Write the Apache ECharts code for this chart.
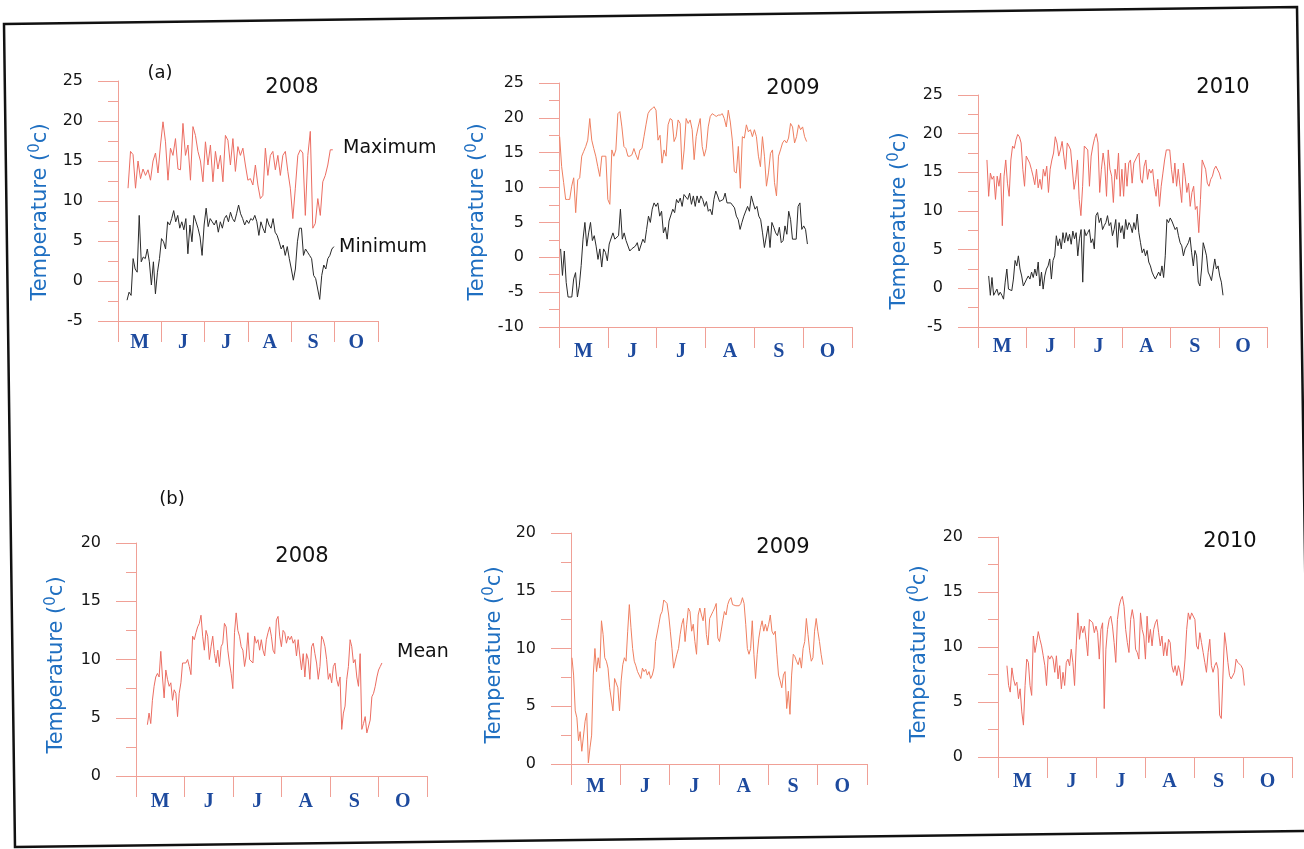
<!DOCTYPE html>
<html>
<head>
<meta charset="utf-8">
<script src="https://cdn.jsdelivr.net/npm/echarts@6/dist/echarts.min.js"></script>
<style>
  html, body { margin: 0; padding: 0; background: #fff; }
  #chart { width: 1304px; height: 849px; }
</style>
</head>
<body>
<div id="chart"></div>
<script>
// Growing season, 1 May – 31 Oct (184 days), shown as six month bands.
const monthNames = ['May', 'Jun', 'Jul', 'Aug', 'Sep', 'Oct'];
const monthLabels = ['M', 'J', 'J', 'A', 'S', 'O'];
const seasonDays = 184;

// Daily air temperature (°C). Each series runs evenly between its first and last day.
const max2008 = [11.6, 16.2, 15.8, 11.6, 15, 12.8, 14, 13.2, 13.9, 12.6, 15, 16, 13.5, 17, 19.9, 17.4, 12.6, 16.6, 15.7, 17.8, 14, 13.9, 19.7, 15.7, 17, 12.6, 19.3, 18.2, 16.2, 15, 12.4, 17.4, 14.5, 17, 12.4, 16.2, 14, 15.7, 12.4, 18.2, 17.6, 14.5, 17.8, 13.7, 16.8, 15.7, 16.6, 14.5, 12.6, 12.8, 12, 14.5, 12, 10.3, 10.7, 16.6, 13.2, 15.7, 16.2, 13.9, 15.7, 13.2, 15.7, 16.2, 13.7, 11.6, 7.8, 11.6, 15.7, 16.4, 16, 8.2, 15.7, 18.7, 6.6, 7.2, 10.3, 8.2, 12.4, 13.2, 14.5, 16.4, 16.4];
const max2008Days = [7.1, 152];
const min2008 = [-2.4, -1.4, -1.8, 2.8, 1.5, 1.1, 8.2, 2.4, 3, 2.8, 4, 2.4, -0.5, 2.4, -1.6, 1.1, 2.8, 5.3, 4.9, 4, 7.4, 7, 7.8, 8.8, 7.4, 8.2, 6.6, 7.4, 6.4, 7.8, 3.4, 7, 4.9, 8.2, 7.4, 6.6, 5.5, 3.2, 7, 9.1, 6.8, 7.8, 7.4, 7, 7.6, 6.1, 7.4, 6.6, 7.8, 8.2, 7.4, 8.6, 7.8, 7.4, 8.4, 9.5, 8.4, 7.8, 7, 7.6, 7.2, 7.8, 7.6, 8.2, 7.4, 5.7, 7.4, 6.6, 6, 7.8, 7, 6.6, 7.8, 6.1, 5.7, 4.9, 4, 4.5, 3.2, 4.3, 2.8, 1.5, 0.1, 1.5, 4.9, 6.6, 6.6, 3.2, 4, 3.6, 3.2, 2.8, 0.7, 0.3, -1, -2.3, 0.7, 2, 1.5, 2.8, 3.2, 4, 4.3];
const min2008Days = [6.4, 152.8];

const max2009 = [17.3, 13, 10.7, 8.3, 8.3, 8.3, 10.2, 11.4, 6.4, 11.1, 11.4, 14.5, 15.2, 15.9, 16.8, 19.9, 16.8, 15.6, 14.5, 13, 11.6, 14.5, 14.5, 14.5, 8.3, 7.6, 15.4, 14.5, 15.4, 20.6, 20.9, 18.7, 15.9, 15.6, 14.5, 14.5, 14.7, 15.6, 14.7, 14, 15.4, 15.6, 17.3, 19, 20.6, 21.1, 21.3, 21.6, 21.1, 16.8, 17.5, 13.5, 15.4, 14.5, 19, 19.9, 19.7, 16.6, 17.3, 19.7, 19.2, 12.6, 15.4, 19.9, 19.2, 19.7, 18.3, 14, 17.3, 18.7, 19.9, 15.9, 14.5, 15.6, 18.7, 20.2, 20.6, 20.4, 20.2, 20.4, 20.4, 20.6, 19.9, 18.7, 21.1, 19.4, 16.8, 12.3, 12.1, 15.9, 9.9, 17.3, 17.1, 19, 18, 18.3, 17.3, 18.3, 17.3, 14.5, 13, 17.3, 14.5, 10.2, 12.1, 14.9, 15.4, 10.7, 8.8, 14.5, 15.4, 16.4, 16.8, 16.4, 17.1, 19.2, 18.7, 16.4, 17.3, 19, 18.3, 18.7, 17.3, 16.6];
const max2009Days = [0.4, 155.5];
const min2009 = [1.2, -2.6, 0.9, -3.6, -5.7, -5.7, -5.7, -3.1, -2.2, -5.7, -4.1, -1.2, 2.6, 5, 1.6, 3.5, 5, 2.4, 3.1, 1.6, -0.3, 1.2, -1.4, 1.2, 0.7, -0.5, 1.9, 1.9, 3.5, 2.6, 2.4, 3.1, 6.9, 2.6, 3.5, 2.4, 2.6, 0.9, 1.2, 1.4, 1.6, 2.1, 0.9, 0.7, 2.6, 2.1, 4, 5.9, 5, 6.9, 7.8, 7.3, 7.8, 5.9, 6.6, 3.5, 4.3, 2.6, 5.2, 5.4, 6.9, 6.4, 8.3, 7.8, 8.5, 7.3, 9, 8.8, 8.3, 9.2, 7.6, 8.8, 7.3, 8.8, 7.8, 8.8, 8.3, 7.3, 8, 6.6, 6.9, 6.1, 8.3, 9.5, 8.8, 8, 7.8, 8.3, 9.2, 7.8, 8, 7.8, 8, 7.1, 5.9, 5.4, 4, 5, 5.9, 6.1, 7.3, 6.6, 8.8, 7.8, 6.9, 7.3, 5.9, 5.4, 3.5, 1.4, 1.6, 4.5, 1.4, 5, 4.3, 3.5, 3.1, 4.3, 2.1, 2.4, 4.5, 3.3, 6.6, 5.4, 2.6, 2.4, 2.6, 7.3, 7.8, 4, 4.5, 4, 1.9];
const min2009Days = [1, 156];

const max2010 = [16.6, 11.9, 14.9, 14.1, 14.5, 11.5, 14.5, 13.2, 14.9, 8.1, 14.5, 16.6, 13.6, 11.9, 16.6, 18.4, 18.1, 19.2, 19.9, 19.6, 18.8, 15.4, 13.2, 17.1, 17.3, 16.2, 15.4, 14.5, 13.4, 15.4, 13, 14.1, 12.8, 15.4, 14.5, 15.8, 12.4, 15.4, 16.6, 17.5, 19.6, 18.8, 17.1, 17.9, 19, 17.1, 15.4, 18.8, 18.4, 17.9, 18.1, 12.8, 14.1, 16.6, 11.5, 9.4, 13.2, 18.4, 18.6, 17.9, 13.2, 17.1, 18.4, 19.4, 20, 18.8, 12.4, 15.4, 17.5, 15.8, 11.9, 17.9, 15.4, 14.5, 11.1, 15.4, 14.1, 17.5, 11.9, 15.4, 11.9, 16.2, 13.2, 16.2, 16.6, 13.6, 16.2, 16.2, 17.1, 17.5, 14.1, 13.6, 15.8, 16.6, 14.1, 15.4, 14.9, 15.4, 13.2, 11.9, 14.1, 10.6, 13.2, 14.9, 16.6, 17.9, 18.1, 17.9, 15.4, 13.6, 16.2, 13.2, 15.4, 13.2, 11.1, 16.2, 14.5, 12.4, 13.6, 10.6, 12.4, 13.2, 10.2, 10.6, 7.2, 11.5, 16.6, 16.6, 15.4, 13.6, 13.2, 14.1, 14.5, 15.4, 15.8, 15.6, 14.9, 14.1];
const max2010Days = [5.7, 154.7];
const min2010 = [1.6, -0.9, 1.4, -0.9, -0.5, -0.1, -0.9, -0.5, -0.9, -1.4, 0.8, 2.5, -0.1, -0.3, -0.3, 1.2, 3.6, 2.9, 4.2, 2.5, 1.6, 0.3, 0.1, 1.2, 1.6, 1.2, 2.1, 1.4, 2.5, 1.6, 3.4, 0.3, 2.1, -0.1, 1.6, 2.5, 2.9, 3.8, 1.2, 3.6, 4.2, 6.8, 5.5, 6.4, 5.1, 7.2, 5.9, 7.2, 6.1, 7, 5.7, 7.4, 6.4, 7.2, 4.2, 6.4, 7.6, 0.8, 7.6, 6.8, 7.2, 7.6, 5.9, 6.4, 5.1, 9.4, 9.8, 8.5, 9.1, 7.6, 8.1, 8.5, 9.4, 8.1, 8.5, 6.8, 7.6, 8.9, 5.3, 8.5, 7.2, 8.1, 6.4, 8.9, 7.6, 8.5, 8.1, 7.2, 8.5, 7.6, 9.6, 7.2, 5.9, 4.6, 5.1, 4.2, 4.9, 3.4, 2.9, 2.1, 1.6, 1.2, 1.4, 2.1, 1.6, 2.9, 1.4, 4.2, 8.9, 8.5, 9.1, 8.7, 8.9, 7.6, 7.9, 6.8, 5.9, 5.5, 4.2, 5.1, 5.5, 5.9, 6.6, 4.6, 2.9, 4.9, 4.2, 0.8, 0.3, 2.5, 5.9, 5.1, 4.2, 2.1, 1.6, 1, 0.8, 3.8, 2.5, 2.9, 1.6, 0.8, -0.9];
const min2010Days = [6.8, 156];

const mean2008 = [4.4, 5.4, 4.5, 6.5, 7.7, 8.5, 8.8, 8.5, 10.7, 8.5, 6.7, 9.1, 8.3, 7.7, 8, 6.5, 7.4, 7.1, 5.1, 7.1, 8, 9.7, 9.8, 9.7, 10, 9.4, 8.7, 12, 11.7, 12.3, 12.8, 13.1, 13.8, 12, 10.8, 12.5, 12, 10, 11.1, 12, 10.5, 9.7, 10.8, 9.4, 11.1, 11.4, 13.1, 12.8, 10.8, 9.7, 8.8, 7.5, 12.3, 14, 12.5, 12, 11.1, 10.8, 9.4, 10.3, 12.3, 10, 10, 9.7, 12, 11.4, 11.7, 10.8, 11.7, 10.8, 10.3, 11.7, 12.3, 12.8, 12, 10.8, 10.5, 13.4, 13.7, 12, 11.1, 12.5, 12.3, 11.4, 12, 11.7, 12, 11.4, 11.7, 10.3, 11.7, 10.3, 9.1, 10.5, 8.5, 10.5, 10, 8.3, 11.1, 11.4, 10.5, 9.7, 8.3, 9.4, 12, 11.7, 11.1, 10, 8.3, 8.8, 8, 9.4, 9.7, 8.3, 7.7, 8.5, 4, 5.4, 6, 8.3, 9.4, 11.7, 11.1, 9.7, 10, 8.5, 7.7, 10.5, 4, 4.5, 5.1, 3.7, 3.7, 4.8, 6.8, 7.1, 7.7, 8.5, 9.1, 9.4, 9.7];
const mean2008Days = [7.2, 155.5];
const mean2009 = [9.2, 7.7, 4.6, 4, 2, 2.8, 1.1, 1, 3.7, 4.4, 0.1, 1.4, 2.5, 7.7, 10, 8, 9.2, 8.3, 12.4, 11.2, 9.2, 8.9, 8.3, 6.6, 6.6, 4.6, 7.4, 7.4, 6.6, 4.6, 7.2, 8.6, 9.2, 8.9, 11.5, 13.8, 11.8, 10, 8.9, 8.5, 8, 7.7, 7.4, 8.3, 8, 8.2, 7.7, 8, 7.4, 7.7, 8.3, 10.6, 10.6, 12.1, 12.9, 13.2, 14.2, 14.2, 13.9, 12.9, 11.5, 10, 8.3, 8.9, 9.5, 10, 11.2, 12.1, 12.6, 10.6, 12.1, 13.5, 13.2, 11.5, 12.1, 10.6, 9.5, 12.9, 13.5, 12.9, 12.4, 13.5, 11.2, 10.3, 12.6, 12.9, 13.2, 13.5, 13.9, 10.9, 10.6, 11.5, 12.4, 13.2, 12.9, 13.8, 14.2, 14.4, 13.8, 13.7, 13.7, 13.7, 13.7, 13.9, 14.4, 13.9, 12.1, 10, 9.5, 10, 12.4, 9.5, 7.4, 9.5, 10.9, 11.8, 12.4, 11.5, 12.1, 11.5, 12.1, 12.9, 11.5, 11.2, 11.5, 9.5, 7.7, 7.2, 6.6, 7.7, 8, 4.8, 6.3, 4.3, 7.7, 9.5, 9.3, 8.9, 8.6, 9.2, 8.3, 10, 10.6, 12.6, 11.2, 9.8, 8.9, 9.2, 11.5, 12.6, 11.5, 10.6, 9.5, 8.6];
const mean2009Days = [0.6, 156.5];
const mean2010 = [8.3, 6.5, 5.9, 8.1, 7.1, 6.5, 6.8, 5.3, 6.2, 4.1, 2.9, 6.5, 8.9, 8.6, 6.5, 5.6, 11, 9.5, 10.4, 11.4, 10.7, 10.1, 9.2, 8.3, 6.5, 9.2, 8.9, 9.2, 8.9, 7.7, 9.2, 7.1, 8.3, 6.2, 7.7, 6.5, 8.6, 8.9, 8.3, 9.8, 8.6, 6.5, 10.1, 13.1, 10.7, 11.9, 11.3, 11.9, 10.7, 9.2, 12.5, 12.5, 12.2, 11.3, 11.9, 11.3, 8.9, 11.6, 12.2, 4.4, 9.8, 11.6, 12.5, 12.8, 11.9, 10.4, 8.6, 12.5, 13.7, 14.3, 14.6, 13.7, 11.6, 10.4, 9.5, 12.5, 13.4, 12.5, 9.8, 9.5, 8.9, 13.1, 11.6, 11, 8.9, 12.8, 10.4, 11.6, 10.1, 11.6, 12.2, 12.5, 11.3, 10.1, 11, 9.2, 10.4, 9.2, 10.7, 10.4, 8.3, 7.7, 8.3, 7.4, 8.3, 7.7, 6.5, 7.1, 8.9, 11.6, 13.1, 12.5, 13.1, 13.2, 12.5, 10.1, 9.8, 11.3, 10.4, 9.5, 8.6, 7.7, 9.5, 10.7, 8.3, 7.7, 8.3, 8.6, 8, 3.8, 3.5, 3.5, 11.3, 10.1, 8.6, 7.4, 7.1, 7.1, 7.7, 8.9, 8.6, 8.6, 8.3, 8, 6.5];
const mean2010Days = [5.6, 154.2];

// ---- styling ----
const SANS = '"DejaVu Sans", "Liberation Sans", sans-serif';
const SERIF = '"Liberation Serif", "DejaVu Serif", serif';
const AXIS = '#f0a096';
const RED = '#ec6d62';
const ORANGE = '#ef7f60';
const BLACK = '#2a2a2a';
const NAME_BLUE = '#1f6fc1';
const MONTH_BLUE = '#1d4a9e';

function toPoints(values, days) {
  const step = (days[1] - days[0]) / (values.length - 1);
  return values.map((v, i) => [days[0] + i * step, v]);
}

const panels = [
  { rect: { left: 118, top: 81, width: 260, height: 240 }, y: [-5, 25], labelMargin: 12,
    lines: [[max2008, max2008Days, RED], [min2008, min2008Days, BLACK]] },
  { rect: { left: 559, top: 83, width: 293, height: 244 }, y: [-10, 25], labelMargin: 15,
    lines: [[max2009, max2009Days, ORANGE], [min2009, min2009Days, BLACK]] },
  { rect: { left: 978, top: 95, width: 289, height: 232 }, y: [-5, 25], labelMargin: 10,
    lines: [[max2010, max2010Days, RED], [min2010, min2010Days, BLACK]] },
  { rect: { left: 136, top: 543, width: 291, height: 233 }, y: [0, 20], labelMargin: 16,
    lines: [[mean2008, mean2008Days, RED]] },
  { rect: { left: 571, top: 533, width: 296, height: 231 }, y: [0, 20], labelMargin: 13,
    lines: [[mean2009, mean2009Days, ORANGE]] },
  { rect: { left: 998, top: 537, width: 294, height: 220 }, y: [0, 20], labelMargin: 15,
    lines: [[mean2010, mean2010Days, RED]] }
];

const grid = [], xAxis = [], yAxis = [], series = [];
panels.forEach((p, i) => {
  grid.push(Object.assign({ containLabel: false }, p.rect));
  // visible month bands
  xAxis.push({
    type: 'category', gridIndex: i, data: monthNames, boundaryGap: true, position: 'bottom',
    axisLine: { onZero: false, lineStyle: { color: AXIS, width: 1 } },
    axisTick: { show: true, interval: 0, length: 21, lineStyle: { color: AXIS, width: 1 } },
    axisLabel: {
      interval: 0, margin: p.labelMargin, formatter: (v, idx) => monthLabels[idx],
      color: MONTH_BLUE, fontFamily: SERIF, fontWeight: 'bold', fontSize: 20
    },
    splitLine: { show: false }
  });
  // day-of-season scale that carries the data
  xAxis.push({ type: 'value', gridIndex: i, min: 0, max: seasonDays, show: false });
  yAxis.push({
    type: 'value', gridIndex: i, min: p.y[0], max: p.y[1], interval: 5,
    axisLine: { show: true, onZero: false, lineStyle: { color: AXIS, width: 1 } },
    axisTick: { show: true, length: 20, lineStyle: { color: AXIS, width: 1 } },
    minorTick: { show: true, splitNumber: 2, length: 10, lineStyle: { color: AXIS, width: 1 } },
    axisLabel: { color: '#151515', fontFamily: SANS, fontSize: 16, margin: 35 },
    splitLine: { show: false }, minorSplitLine: { show: false }
  });
  p.lines.forEach(([vals, days, color]) => {
    series.push({
      type: 'line', xAxisIndex: 2 * i + 1, yAxisIndex: i,
      data: toPoints(vals, days), showSymbol: false, symbol: 'none',
      lineStyle: { color: color, width: 1 }, silent: true
    });
  });
});

function label(text, x, y, size, align) {
  return { type: 'text', x: x, y: y, silent: true,
    style: { text: text, fill: '#111', fontFamily: SANS, fontSize: size,
      textAlign: align || 'center', textVerticalAlign: 'middle' } };
}
function axisName(x, y) {
  return { type: 'text', x: x, y: y, rotation: Math.PI / 2, silent: true,
    style: { text: 'Temperature ({s|0}c)', fill: NAME_BLUE, fontFamily: SANS, fontSize: 21,
      lineHeight: 26, textAlign: 'center', textVerticalAlign: 'middle',
      rich: { s: { fontSize: 15, lineHeight: 15, verticalAlign: 'top', fill: NAME_BLUE, fontFamily: SANS } } } };
}

const graphic = [
  { type: 'polygon', silent: true, shape: { points: [[4, 24], [1297, 7], [1309, 831], [15, 847]] },
    style: { fill: 'transparent', stroke: '#111', lineWidth: 2.5 } },
  label('(a)', 160, 73, 18), label('(b)', 172, 499, 18),
  label('2008', 292, 88, 21), label('2009', 793, 89, 21), label('2010', 1223, 88, 21),
  label('2008', 302, 557, 21), label('2009', 783, 548, 21), label('2010', 1230, 542, 21),
  label('Maximum', 343, 148, 19, 'left'), label('Minimum', 339, 247, 19, 'left'),
  label('Mean', 397, 652, 19, 'left'),
  axisName(41, 212), axisName(478, 212), axisName(900, 221),
  axisName(57, 665), axisName(495, 655), axisName(920, 654)
];

const chart = echarts.init(document.getElementById('chart'), null, { renderer: 'canvas' });
chart.setOption({
  animation: false,
  backgroundColor: '#ffffff',
  grid: grid, xAxis: xAxis, yAxis: yAxis, series: series, graphic: graphic
});
</script>
</body>
</html>
